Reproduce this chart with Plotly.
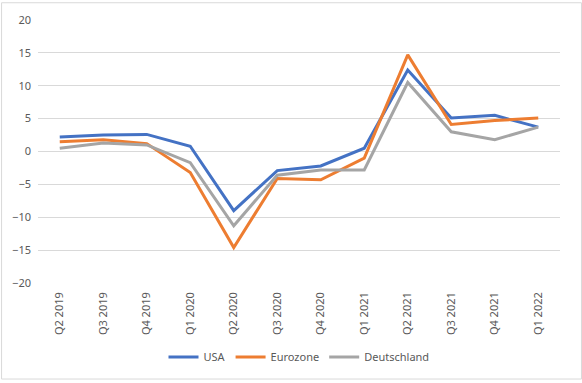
import plotly.graph_objects as go

quarters = ["Q2 2019", "Q3 2019", "Q4 2019", "Q1 2020", "Q2 2020", "Q3 2020",
            "Q4 2020", "Q1 2021", "Q2 2021", "Q3 2021", "Q4 2021", "Q1 2022"]
usa = [2.2, 2.5, 2.6, 0.8, -9.0, -2.9, -2.2, 0.5, 12.4, 5.1, 5.5, 3.7]
eurozone = [1.5, 1.8, 1.2, -3.2, -14.6, -4.1, -4.3, -1.0, 14.7, 4.1, 4.7, 5.1]
deutschland = [0.5, 1.3, 1.0, -1.7, -11.3, -3.6, -2.8, -2.8, 10.5, 3.0, 1.8, 3.7]

series = [("USA", usa, "#4472C4"), ("Eurozone", eurozone, "#ED7D31"),
          ("Deutschland", deutschland, "#A5A5A5")]

fig = go.Figure()
for name, vals, col in series:
    fig.add_trace(go.Scatter(x=quarters, y=vals, name=name, mode="lines",
                             line=dict(color=col, width=3)))

W, H = 582, 383
ml, mr, mt, mb = 37, 22, 18, 98
pw, ph = W - ml - mr, H - mt - mb

fig.update_layout(
    width=W, height=H,
    margin=dict(l=ml, r=mr, t=mt, b=mb),
    paper_bgcolor="white", plot_bgcolor="white",
    font=dict(family="Noto Sans, Open Sans, sans-serif", size=11, color="#595959"),
    showlegend=True,
    legend=dict(orientation="h", x=0.5, xanchor="center", y=-(360 - 285) / ph,
                yanchor="middle", font=dict(size=11, color="#595959"),
                itemwidth=30, tracegroupgap=0),
    xaxis=dict(type="category", range=[-0.5, len(quarters) - 0.5], tickangle=-90,
               showgrid=False, zeroline=False, showline=False, ticks="",
               ticklabelstandoff=6, tickfont=dict(size=11, color="#595959")),
    yaxis=dict(range=[-20, 20], dtick=5, showgrid=True, gridcolor="#D9D9D9",
               gridwidth=1, zeroline=False, showline=False, ticks="",
               ticklabelstandoff=6, tickfont=dict(size=11, color="#595959")),
    shapes=[dict(type="rect", xref="paper", yref="paper",
                 x0=-(ml - 0.5) / pw, x1=1 + (mr - 0.5) / pw,
                 y0=-(mb - 0.5) / ph, y1=1 + (mt - 0.5) / ph,
                 line=dict(color="#D9D9D9", width=1), layer="below")],
)

fig.write_html("out.html", config={"displayModeBar": False},
               post_script="document.body.style.margin='0';")
